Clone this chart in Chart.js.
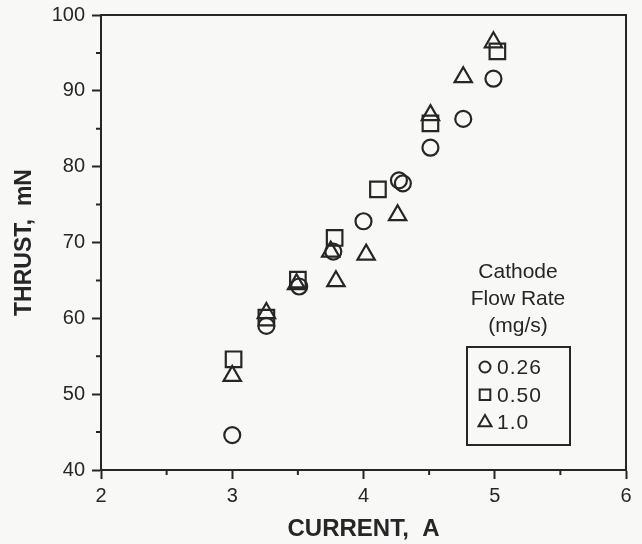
<!DOCTYPE html>
<html>
<head>
<meta charset="utf-8">
<script src="https://cdn.jsdelivr.net/npm/chart.js@4.4.1/dist/chart.umd.min.js"></script>
<style>
  html, body { margin: 0; padding: 0; background: #f8f8f7; }
  #wrap { width: 642px; height: 544px; }
</style>
</head>
<body>
<div id="wrap"><canvas id="thrustChart" width="642" height="544"></canvas></div>
<script>
// cathode flow rate 0.26 mg/s (circles)
const current026 = [3.00, 3.26, 3.51, 3.77, 4.00, 4.27, 4.30, 4.51, 4.76, 4.99];
const thrust026  = [44.6, 59.0, 64.2, 68.8, 72.8, 78.2, 77.8, 82.5, 86.3, 91.6];
// 0.50 mg/s (squares)
const current050 = [3.01, 3.26, 3.50, 3.78, 4.11, 4.51, 5.02];
const thrust050  = [54.6, 60.1, 65.1, 70.6, 77.0, 85.7, 95.2];
// 1.0 mg/s (triangles)
const current10 = [3.00, 3.26, 3.49, 3.75, 3.79, 4.02, 4.26, 4.51, 4.76, 4.99];
const thrust10  = [52.4, 60.7, 64.5, 68.8, 64.9, 68.4, 73.6, 86.8, 91.8, 96.4];

const flowLabels = ['0.26', '0.50', '1.0'];
const xMinorTicks = [2.5, 3.5, 4.5, 5.5];
const yMinorTicks = [45, 55, 65, 75, 85, 95];

const ink = '#262626';
const fontFam = '"Liberation Sans", Arial, Helvetica, sans-serif';

function pts(xs, ys) {
  return xs.map((x, i) => ({ x: x, y: ys[i] }));
}

const markers = [
  { style: 'circle', radius: 8, legendRadius: 5.5 },
  { style: 'rect', radius: 11, legendRadius: 7.5 },
  { style: 'triangle', radius: 10, legendRadius: 7.5 }
];

const datasets = [
  pts(current026, thrust026),
  pts(current050, thrust050),
  pts(current10, thrust10)
].map((data, i) => ({
  label: flowLabels[i],
  data: data,
  pointStyle: markers[i].style,
  pointRadius: markers[i].radius,
  pointHoverRadius: markers[i].radius,
  borderColor: ink,
  backgroundColor: 'transparent',
  pointBorderWidth: 2.2,
  showLine: false
}));

// box around plot + small minor ticks
const frame = {
  id: 'frame',
  afterDraw(chart) {
    const { ctx, chartArea: a, scales } = chart;
    ctx.save();
    ctx.strokeStyle = ink;
    ctx.lineWidth = 2;
    ctx.strokeRect(a.left, a.top, a.right - a.left, a.bottom - a.top);
    ctx.beginPath();
    xMinorTicks.forEach(v => {
      const px = scales.x.getPixelForValue(v);
      ctx.moveTo(px, a.bottom);
      ctx.lineTo(px, a.bottom + 5);
    });
    yMinorTicks.forEach(v => {
      const py = scales.y.getPixelForValue(v);
      ctx.moveTo(a.left, py);
      ctx.lineTo(a.left - 5, py);
    });
    ctx.stroke();
    ctx.restore();
  }
};

// legend drawn inside the plot, lower right
const flowLegend = {
  id: 'flowLegend',
  afterDraw(chart) {
    const { ctx, chartArea: a } = chart;
    const cx = a.right - 108;
    ctx.save();
    ctx.fillStyle = ink;
    ctx.font = '21px ' + fontFam;
    ctx.textAlign = 'center';
    ctx.textBaseline = 'middle';
    ctx.fillText('Cathode', cx, a.top + 257);
    ctx.fillText('Flow Rate', cx, a.top + 284);
    ctx.fillText('(mg/s)', cx, a.top + 311);

    const bx = a.right - 159, by = a.top + 332, bw = 103, bh = 98;
    ctx.strokeStyle = ink;
    ctx.lineWidth = 2;
    ctx.strokeRect(bx, by, bw, bh);

    ctx.textAlign = 'left';
    ctx.letterSpacing = '1px';
    chart.data.datasets.forEach((ds, i) => {
      const ry = by + 20 + i * 27.8;
      ctx.lineWidth = 2;
      ctx.fillStyle = 'rgba(0,0,0,0)';
      Chart.helpers.drawPoint(ctx, {
        pointStyle: markers[i].style,
        radius: markers[i].legendRadius,
        borderWidth: 2
      }, bx + 18, ry);
      ctx.fillStyle = ink;
      ctx.fillText(ds.label, bx + 30, ry + 1);
    });
    ctx.restore();
  }
};

const ctx = document.getElementById('thrustChart').getContext('2d');

new Chart(ctx, {
  type: 'scatter',
  data: { datasets: datasets },
  options: {
    responsive: false,
    animation: false,
    layout: {
      padding: { top: 15, right: 16, left: 0, bottom: 0 }
    },
    scales: {
      x: {
        type: 'linear',
        min: 2,
        max: 6,
        afterFit: s => { s.height = 74; s.paddingLeft = 0; s.paddingRight = 0; },
        ticks: {
          stepSize: 1,
          color: ink,
          padding: 5,
          font: { size: 20, family: fontFam }
        },
        grid: {
          drawOnChartArea: false,
          drawTicks: true,
          tickLength: 9,
          tickWidth: 2,
          tickColor: ink
        },
        border: { display: true, color: ink, width: 2 },
        title: {
          display: true,
          text: 'CURRENT,  A',
          color: ink,
          padding: { top: 2, bottom: 0 },
          font: { size: 24, weight: 'bold', family: fontFam }
        }
      },
      y: {
        min: 40,
        max: 100,
        afterFit: s => { s.width = 101; s.paddingTop = 0; s.paddingBottom = 0; },
        ticks: {
          stepSize: 10,
          color: ink,
          padding: 7,
          font: { size: 20, family: fontFam }
        },
        grid: {
          drawOnChartArea: false,
          drawTicks: true,
          tickLength: 9,
          tickWidth: 2,
          tickColor: ink
        },
        border: { display: true, color: ink, width: 2 },
        title: {
          display: true,
          text: 'THRUST,  mN',
          color: ink,
          padding: { top: 11, bottom: 0 },
          font: { size: 23, weight: 'bold', family: fontFam }
        }
      }
    },
    plugins: {
      legend: { display: false },
      tooltip: { enabled: false }
    }
  },
  plugins: [frame, flowLegend]
});
</script>
</body>
</html>
